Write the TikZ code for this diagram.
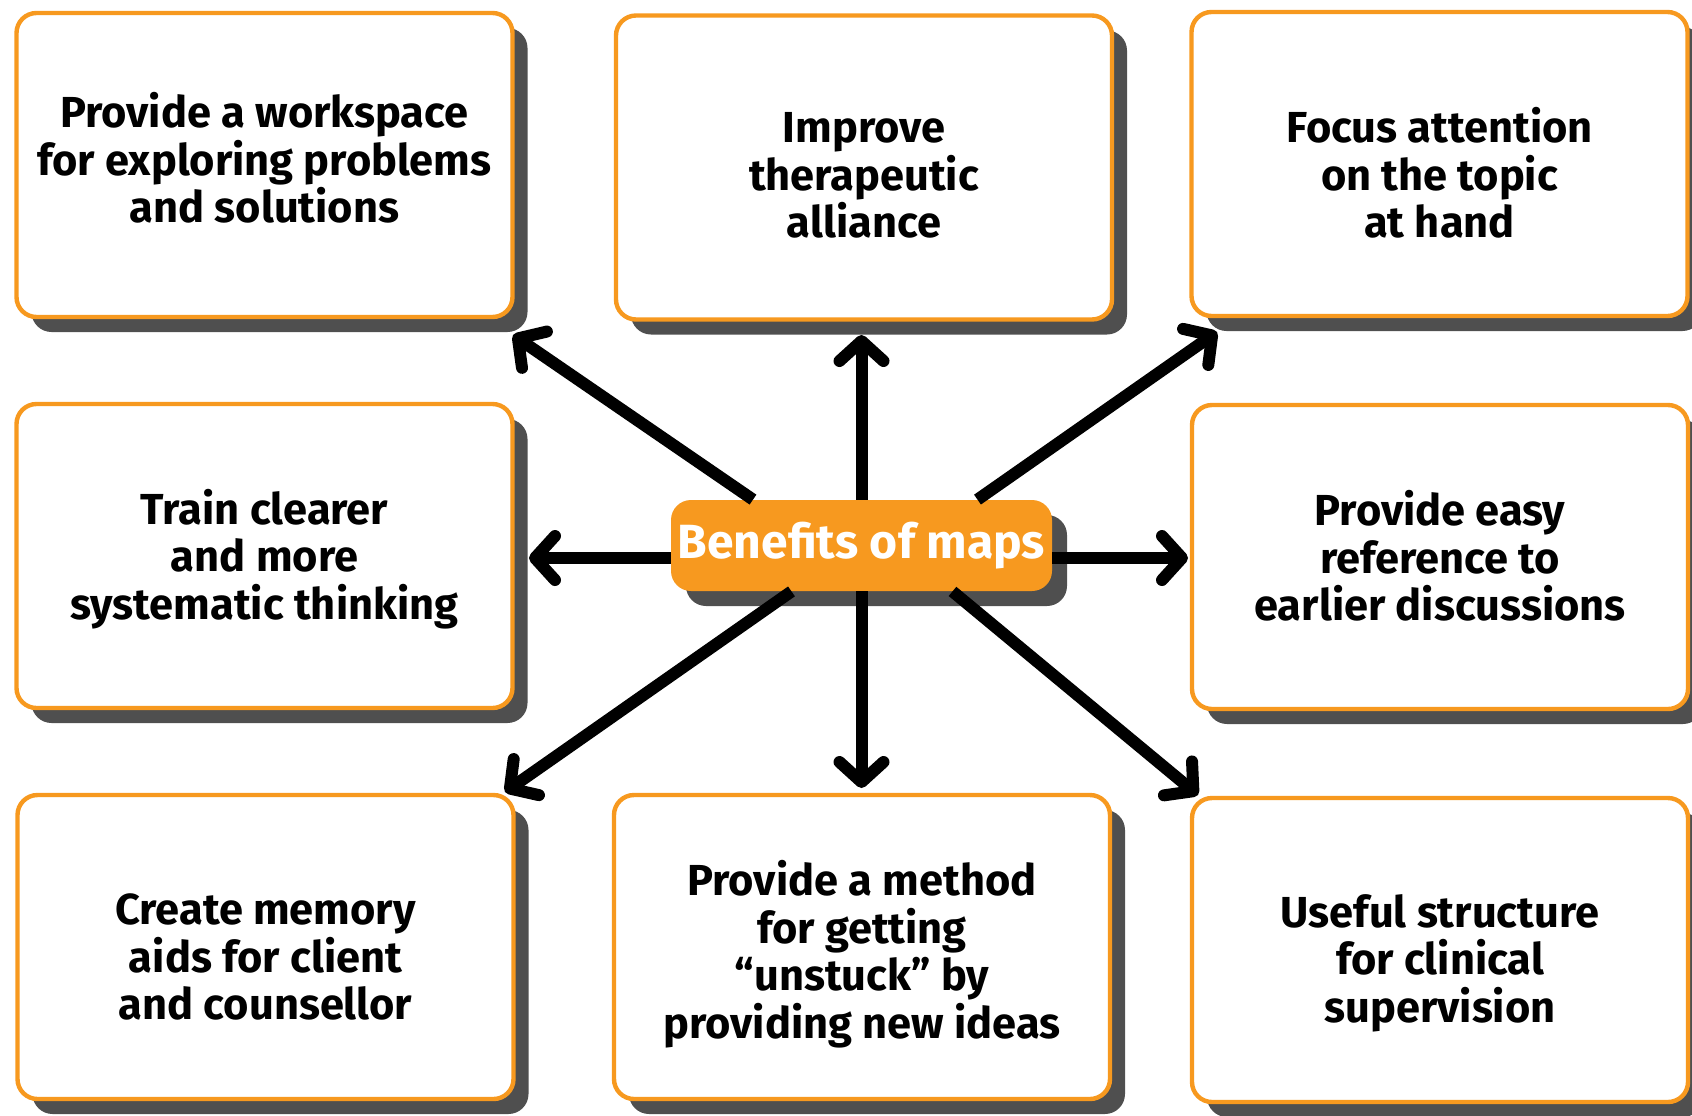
\documentclass[tikz,border=0pt]{standalone}
\usepackage{fontspec}
\setmainfont{Fira Sans}
\usetikzlibrary{arrows.meta,shadows,calc}
\definecolor{borange}{HTML}{F7991F}
\definecolor{shgray}{HTML}{4F4F4F}
\begin{document}
\begin{tikzpicture}[x=0.5pt,y=-0.5pt,
  box/.style={draw=borange, line width=2.2pt, fill=white, rounded corners=10pt,
    minimum width=248pt, minimum height=152pt,
    drop shadow={shadow xshift=7.5pt, shadow yshift=-7.5pt, fill=shgray, opacity=1}},
  boxtext/.style={align=center, inner sep=0pt,
    font=\bfseries\fontsize{21.7}{23.75}\selectfont},
  hub/.style={fill=borange, rounded corners=10pt, minimum width=190.5pt, minimum height=45.5pt,
    inner sep=0pt, text=white, font=\bfseries\fontsize{24}{28}\selectfont,
    drop shadow={shadow xshift=7.5pt, shadow yshift=-7.5pt, fill=shgray, opacity=1}},
  arr/.style={line width=6pt, -{Straight Barb[length=10pt,width=22pt,round]}}]
\useasboundingbox (0,0) rectangle (1692,1115);

\node[box] (tl) at (264.5,165) {};
\node[box] (tc) at (864,167.5) {};
\node[box] (tr) at (1439.5,164) {};
\node[box] (ml) at (264.5,556) {};
\node[box] (mr) at (1440,557) {};
\node[box] (bl) at (265.5,947) {};
\node[box] (bc) at (862,947) {};
\node[box] (br) at (1440,950) {};

\node[boxtext] (tlx) at ($(tl)+(0,-7)$) {Provide a workspace\\for exploring problems\\and solutions};
\node[boxtext] (tcx) at ($(tc)+(0,8)$) {Improve\\therapeutic\\alliance};
\node[boxtext] (trx) at ($(tr)+(0,9)$) {Focus attention\\on the topic\\at hand};
\node[boxtext] (mlx) at ($(ml)+(0,3)$) {Train clearer\\and more\\systematic thinking};
\node[boxtext] (mrx) at ($(mr)+(0,-1)$) {Provide easy\\reference to\\earlier discussions};
\node[boxtext] (blx) at ($(bl)+(0,10)$) {Create memory\\aids for client\\and counsellor};
\node[boxtext] (bcx) at ($(bc)+(0,7)$) {Provide a method\\for getting\\“unstuck” by\\providing new ideas};
\node[boxtext] (brx) at ($(br)+(0,13)$) {Useful structure\\for clinical\\supervision};

\node[hub] (hub) at (861.5,545.5) {Benefits of maps};

\coordinate (tUL) at (513,335);
\coordinate (tU) at (861.5,335);
\coordinate (tUR) at (1217,332);
\coordinate (tL) at (529,558);
\coordinate (tR) at (1188,558);
\coordinate (tDL) at (505,792);
\coordinate (tD) at (861.5,788);
\coordinate (tDR) at (1198,795);

\draw[arr] ($(hub.north)+(-108.5,0)$) -- (tUL);
\draw[arr] (hub.north) -- (tU);
\draw[arr] ($(hub.north)+(116,0)$) -- (tUR);
\draw[arr] ($(hub.west)+(0,12.5)$) -- (tL);
\draw[arr] ($(hub.east)+(0,12.5)$) -- (tR);
\draw[arr] ($(hub.south)+(-70,0)$) -- (tDL);
\draw[arr] (hub.south) -- (tD);
\draw[arr] ($(hub.south)+(91,0)$) -- (tDR);
\end{tikzpicture}
\end{document}
